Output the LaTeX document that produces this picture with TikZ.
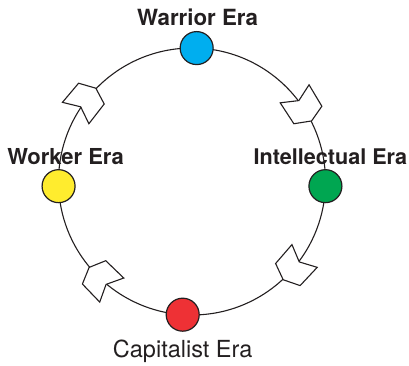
\documentclass[tikz,border=0pt]{standalone}
\usepackage{fontspec}
\setmainfont{TeX Gyre Heros}
\usetikzlibrary{positioning}
\definecolor{inkgray}{HTML}{231F20}
\definecolor{warriorblue}{HTML}{00AEEF}
\definecolor{intelgreen}{HTML}{00A651}
\definecolor{capred}{HTML}{EE3135}
\definecolor{workeryellow}{HTML}{FFEC2E}
\tikzset{
  era/.style={circle, draw=inkgray, line width=1.2pt, minimum size=33pt, inner sep=0pt, outer sep=0pt},
  eralabel/.style={inner sep=0pt, text=inkgray, font=\fontsize{22}{22}\selectfont\bfseries},
  turn/.style={draw=inkgray, fill=white, line width=1.1pt, line join=miter},
}

\begin{document}
\begin{tikzpicture}[x=1pt, y=1pt]
\useasboundingbox (0,0) rectangle (409,-365);
\node (ring) [circle, draw=inkgray, line width=1.1pt, minimum size=267pt, inner sep=0pt, outer sep=0pt] at (192,-181.5) {};

% turning arrows along the cycle
\foreach \a in {141,32,-42,-135}
  \path [turn, shift={(ring.\a)}, rotate=\a-90] (12,0) -- (5,16.5) -- (-20,17) -- (-12,0) -- (-20,-17) -- (5,-16.5) -- cycle;

\node (warrior) [era, fill=warriorblue] at (ring.88.7) {};
\node (intel) [era, fill=intelgreen] at (ring.-2.1) {};
\node (capital) [era, fill=capred] at (ring.266.2) {};
\node (worker) [era, fill=workeryellow] at (ring.182.1) {};

\node (warriortext) [eralabel, above=6pt of warrior, xshift=1pt, font=\fontsize{22.3}{22}\selectfont\bfseries] {Warrior Era};
\node (inteltext) [eralabel, above=5pt of intel, xshift=5pt, font=\fontsize{21.6}{22}\selectfont\bfseries] {Intellectual Era};
\node (workertext) [eralabel, above=5pt of worker, xshift=7pt] {Worker Era};
\node (capitaltext) [eralabel, below=9pt of capital, font=\fontsize{23.5}{22}\selectfont] {Capitalist Era};
\end{tikzpicture}
\end{document}
